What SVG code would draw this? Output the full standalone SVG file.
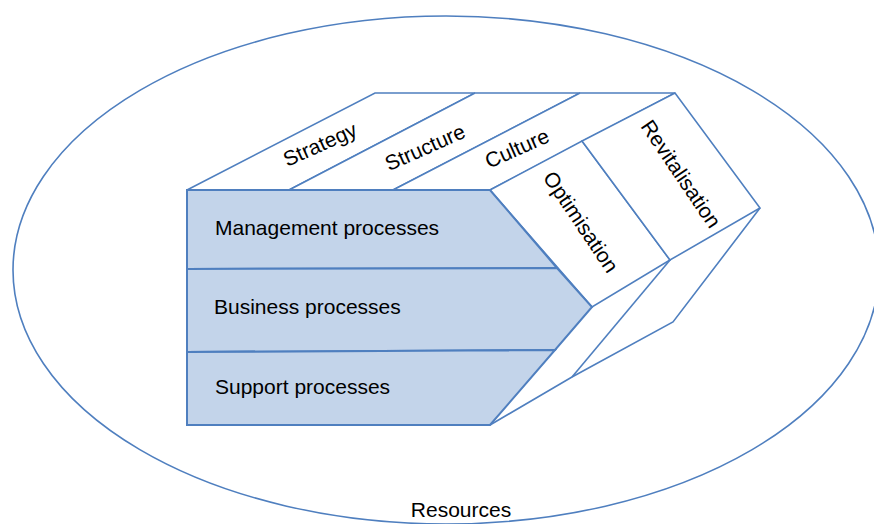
<svg xmlns="http://www.w3.org/2000/svg" width="874" height="524" viewBox="0 0 874 524">
<style>
.ln{fill:none;stroke:#4f7fbf;stroke-width:1.6;stroke-linejoin:miter}
.face{fill:#c3d4ea;stroke:#4f7fbf;stroke-width:2}
.top{fill:#ffffff;stroke:#4f7fbf;stroke-width:1.6}
.t{font-family:"Liberation Sans",Arial,sans-serif;font-size:21px;fill:#000}
</style>
<rect width="874" height="524" fill="#ffffff"/>
<g id="resources">
<ellipse class="ln" cx="446" cy="270" rx="433" ry="254"/>
<text class="t" x="461" y="517" text-anchor="middle">Resources</text>
</g>
<g id="connectors">
<polyline class="ln" points="490,425 572,377 673,322 760,208"/>
<line class="ln" x1="572" y1="377" x2="670" y2="260"/>
</g>
<g id="strategy">
<polygon class="top" points="187,190 375,93 475,93 289,190"/>
<text class="t" text-anchor="middle" transform="translate(323,151) rotate(-24)">Strategy</text>
</g>
<g id="structure">
<polygon class="top" points="289,190 475,93 580,93 393,190"/>
<text class="t" text-anchor="middle" transform="translate(428,154) rotate(-24)">Structure</text>
</g>
<g id="culture">
<polygon class="top" points="393,190 580,93 675,93 490,190"/>
<text class="t" text-anchor="middle" transform="translate(520,155) rotate(-24)">Culture</text>
</g>
<g id="optimisation">
<polygon class="top" points="490,190 582,141 670,260 592,307"/>
<text class="t" text-anchor="middle" transform="translate(575,226) rotate(56)">Optimisation</text>
</g>
<g id="revitalisation">
<polygon class="top" points="582,141 675,93 760,208 670,260"/>
<text class="t" text-anchor="middle" transform="translate(675,178) rotate(56)">Revitalisation</text>
</g>
<g id="management">
<polygon class="face" points="187,190 490,190 557,268 187,269"/>
<text class="t" x="215" y="235">Management processes</text>
</g>
<g id="business">
<polygon class="face" points="187,269 557,268 592,307 555,350 187,352"/>
<text class="t" x="214" y="314">Business processes</text>
</g>
<g id="support">
<polygon class="face" points="187,352 555,350 490,425 187,425"/>
<text class="t" x="215" y="394">Support processes</text>
</g>
</svg>
